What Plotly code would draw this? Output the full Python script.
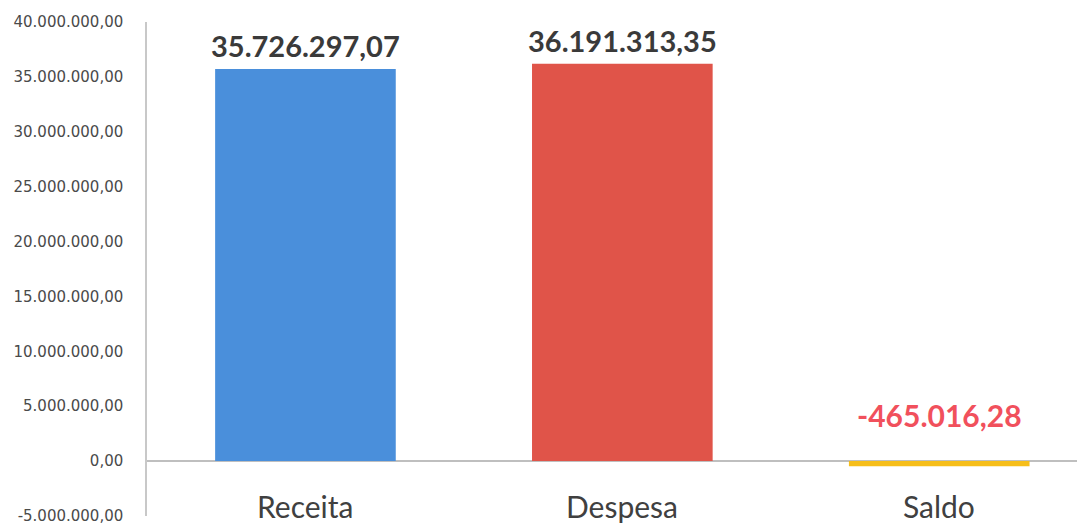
import plotly.graph_objects as go

categories = ["Receita", "Despesa", "Saldo"]
values = [35726297.07, 36191313.35, -465016.28]
bar_colors = ["#4a8fdb", "#e05449", "#f6be1a"]
label_colors = ["#3a3a3a", "#3a3a3a", "#f1505c"]
tick_vals = [-5e6, 0, 5e6, 10e6, 15e6, 20e6, 25e6, 30e6, 35e6, 40e6]


def br(v):
    s = f"{abs(v):,.2f}".replace(",", "X").replace(".", ",").replace("X", ".")
    return ("-" if v < 0 else "") + s


tick_text = [br(v) for v in tick_vals]

fig = go.Figure()
fig.add_trace(go.Bar(
    x=categories, y=values, marker=dict(color=bar_colors, line=dict(width=0)),
    width=0.57, hoverinfo="skip",
))

for c, v, col in zip(categories, values, label_colors):
    fig.add_annotation(
        x=c, y=max(v, 0), text=f"<b>{br(v)}</b>", showarrow=False,
        yanchor="bottom", yshift=4 if v > 0 else 26,
        font=dict(family="Lato, Open Sans, sans-serif", size=30 if v < 0 else 29, color=col),
    )
    fig.add_annotation(
        x=c, y=-4.05e6, text=c, showarrow=False, yanchor="middle",
        font=dict(family="Lato, Open Sans, sans-serif", size=30, color="#404040"),
    )

fig.update_layout(
    width=1077, height=515,
    margin=dict(l=139, r=0, t=14, b=7),
    paper_bgcolor="white", plot_bgcolor="white",
    showlegend=False,
    xaxis=dict(range=[-0.5, 2.46], showticklabels=False, showgrid=False,
               zeroline=False, showline=False, ticks="", automargin=False),
    yaxis=dict(range=[-5e6, 40e6], tickvals=tick_vals, ticktext=tick_text,
               showgrid=False, zeroline=True, zerolinecolor="#bfbfbf", zerolinewidth=1.5,
               showline=True, linecolor="#c8c8c8", linewidth=1.5,
               ticks="", ticklabelstandoff=19, automargin=False,
               ticklabeloverflow="allow",
               tickfont=dict(family="DejaVu Sans, sans-serif", size=15, color="#4a4a4a")),
)

fig.write_html("out.html")
